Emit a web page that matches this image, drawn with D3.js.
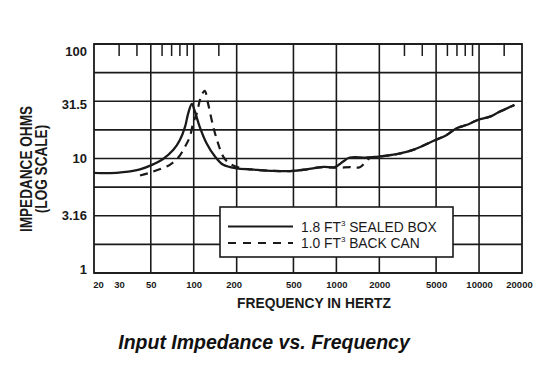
<!DOCTYPE html>
<html>
<head>
<meta charset="utf-8">
<script src="https://cdn.jsdelivr.net/npm/d3@7"></script>
<style>
  body { margin: 0; background: #fff; }
  svg { display: block; }
</style>
</head>
<body>
<script>
// chart data
const xTicks = [20, 30, 50, 100, 200, 500, 1000, 2000, 5000, 10000, 20000];
const xGrid = [50, 100, 200, 500, 1000, 2000, 5000, 10000];
const xMinor = [30, 40, 60, 70, 80, 90, 150, 3000, 4000, 6000, 7000, 8000, 9000, 15000];
const yTicks = [1, 3.16, 10, 31.5, 100];
const yTickLabels = ['1', '3.16', '10', '31.5', '100'];
const yGrid = [1, 1.78, 3.16, 5.62, 10, 17.8, 31.6, 56.2, 100];

const sealedFreq = [20, 26, 32, 42, 51, 61, 72, 80, 87, 91.5, 97, 102, 110, 123, 141, 161, 200, 250, 360, 500, 620, 810, 975, 1115, 1240, 1630, 2000, 2640, 3450, 4950, 5900, 6950, 8150, 9800, 11900, 13900, 17700];
const sealedOhms = [7.5, 7.45, 7.6, 8.05, 8.8, 9.9, 11.9, 14.5, 19, 24.8, 30, 25.6, 19, 13.6, 10.4, 8.8, 8.2, 8.05, 7.8, 7.8, 8.05, 8.45, 8.4, 9.4, 10.2, 10.2, 10.4, 10.9, 11.9, 14.5, 16, 18.4, 19.6, 21.7, 23.2, 25.6, 29.3];

const backCanFreq = [42, 49, 60, 68, 78, 87, 94, 99, 105, 110.5, 115, 119.5, 126, 137, 148, 161, 179, 210, 250, 360, 500, 620, 810, 1000, 1250, 1460, 1720, 2000, 2640, 3450, 4950, 5900, 6950, 8150, 9800, 11900, 13900, 17700];
const backCanOhms = [7.1, 7.5, 8.2, 8.8, 10.2, 12.7, 15.5, 20.3, 24.8, 32.4, 37, 39, 30.3, 19, 13.6, 10.4, 9.0, 8.3, 8.05, 7.8, 7.8, 8.05, 8.4, 8.3, 8.4, 8.4, 10.1, 10.4, 10.9, 11.9, 14.5, 16, 18.4, 19.6, 21.7, 23.2, 25.6, 29.3];

const W = 557, H = 371;
const plotLeft = 94, plotRight = 522, plotTop = 44, plotBottom = 273;
const ink = '#1a1a1a';

const svg = d3.select('body').append('svg')
    .attr('width', W)
    .attr('height', H);

const x = d3.scaleLog().domain([20, 20000]).range([plotLeft, plotRight]);
const y = d3.scaleLog().domain([1, 100]).range([plotBottom, plotTop]);

// grid
svg.append('g').selectAll('line')
    .data(yGrid)
    .join('line')
    .attr('x1', plotLeft).attr('x2', plotRight)
    .attr('y1', d => y(d)).attr('y2', d => y(d))
    .attr('stroke', ink).attr('stroke-width', 1.6);

svg.append('g').selectAll('line')
    .data(xGrid)
    .join('line')
    .attr('x1', d => x(d)).attr('x2', d => x(d))
    .attr('y1', plotTop).attr('y2', plotBottom)
    .attr('stroke', ink).attr('stroke-width', 1.6);

// short ticks hanging from the top edge
svg.append('g').selectAll('line')
    .data(xMinor)
    .join('line')
    .attr('x1', d => x(d)).attr('x2', d => x(d))
    .attr('y1', plotTop).attr('y2', plotTop + 12)
    .attr('stroke', ink).attr('stroke-width', 1.5);

svg.append('rect')
    .attr('x', plotLeft).attr('y', plotTop)
    .attr('width', plotRight - plotLeft).attr('height', plotBottom - plotTop)
    .attr('fill', 'none').attr('stroke', ink).attr('stroke-width', 1.8);

// axes (labels only)
const xAxis = svg.append('g')
    .attr('transform', `translate(0,${plotBottom})`)
    .call(d3.axisBottom(x).tickValues(xTicks).tickFormat(d3.format('d')).tickSize(0).tickPadding(8));
xAxis.select('.domain').remove();
xAxis.selectAll('text')
    .attr('font-family', 'Liberation Sans, Arial, sans-serif')
    .attr('font-weight', 'bold')
    .attr('font-size', 9.5)
    .attr('fill', ink)
    .attr('dx', d => d === 20 ? 4 : d === 20000 ? -3 : d === 200 ? -3 : 0);

const yAxis = svg.append('g')
    .attr('transform', `translate(${plotLeft},0)`)
    .call(d3.axisLeft(y).tickValues(yTicks).tickFormat((d, i) => yTickLabels[i]).tickSize(0).tickPadding(7));
yAxis.select('.domain').remove();
yAxis.selectAll('text')
    .attr('font-family', 'Liberation Sans, Arial, sans-serif')
    .attr('font-weight', 'bold')
    .attr('font-size', 13)
    .attr('fill', ink)
    .attr('dy', d => d === 100 ? '0.85em' : d === 1 ? '0.05em' : d === 31.5 ? '0.55em' : '0.32em');

// curves
const line = d3.line()
    .x(d => x(d[0]))
    .y(d => y(d[1]))
    .curve(d3.curveCatmullRom.alpha(0.5));

svg.append('path')
    .datum(d3.zip(backCanFreq, backCanOhms))
    .attr('d', line)
    .attr('fill', 'none')
    .attr('stroke', ink)
    .attr('stroke-width', 2.2)
    .attr('stroke-dasharray', '8,6');

svg.append('path')
    .datum(d3.zip(sealedFreq, sealedOhms))
    .attr('d', line)
    .attr('fill', 'none')
    .attr('stroke', ink)
    .attr('stroke-width', 2.3);

// legend
const legend = svg.append('g');
legend.append('rect')
    .attr('x', 220).attr('y', 207)
    .attr('width', 233).attr('height', 50)
    .attr('fill', '#fff').attr('stroke', ink).attr('stroke-width', 1.6);

const legendItems = [
    { vol: '1.8 FT', rest: ' SEALED BOX', dash: null },
    { vol: '1.0 FT', rest: ' BACK CAN', dash: '8,7' }
];
legendItems.forEach((d, i) => {
    const ly = 226.5 + i * 16.5;
    legend.append('line')
        .attr('x1', 228).attr('x2', 293)
        .attr('y1', ly).attr('y2', ly)
        .attr('stroke', ink).attr('stroke-width', 2.2)
        .attr('stroke-dasharray', d.dash);
    const t = legend.append('text')
        .attr('x', 301)
        .attr('y', ly + 5)
        .attr('font-family', 'Liberation Sans, Arial, sans-serif')
        .attr('font-size', 13.8)
        .attr('fill', ink);
    t.append('tspan').text(d.vol);
    t.append('tspan').text('3').attr('font-size', 8).attr('dy', -6);
    t.append('tspan').text(d.rest).attr('dy', 6);
});

// titles
svg.append('text')
    .attr('x', 314).attr('y', 308)
    .attr('text-anchor', 'middle')
    .attr('font-family', 'Liberation Sans, Arial, sans-serif')
    .attr('font-weight', 'bold')
    .attr('font-size', 13.8)
    .attr('fill', ink)
    .text('FREQUENCY IN HERTZ');

// y title is set in a tall, narrow face: squeeze a normal bold font
const yTitle = svg.append('text')
    .attr('transform', 'translate(0,169) rotate(-90) scale(1,1.2)')
    .attr('text-anchor', 'middle')
    .attr('font-family', 'Liberation Sans, Arial, sans-serif')
    .attr('font-weight', 'bold')
    .attr('font-size', 13.6)
    .attr('fill', ink);
yTitle.append('tspan').attr('x', 0).attr('y', 27).text('IMPEDANCE OHMS');
yTitle.append('tspan').attr('x', 0).attr('y', 38.8).text('(LOG SCALE)');

svg.append('text')
    .attr('x', 264).attr('y', 349)
    .attr('text-anchor', 'middle')
    .attr('font-family', 'Liberation Sans, Arial, sans-serif')
    .attr('font-weight', 'bold')
    .attr('font-style', 'italic')
    .attr('font-size', 19.5)
    .attr('fill', '#111')
    .text('Input Impedance vs. Frequency');
</script>
</body>
</html>
